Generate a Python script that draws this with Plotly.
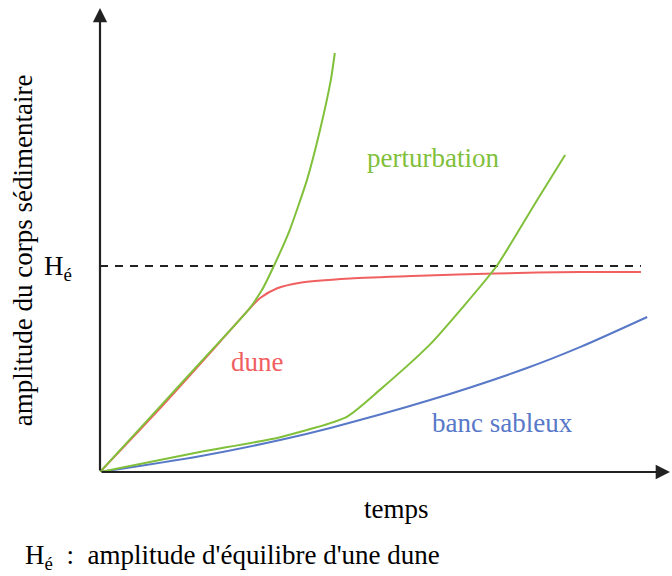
import plotly.graph_objects as go

# Time axis and amplitude curves (arbitrary units, 0-10 scale)
dune_t = [0, 1.0, 2.0, 2.60, 2.81, 3.11, 3.51, 4.39, 5.61, 6.93, 8.42, 9.49]
dune_h = [0, 1.30, 2.66, 3.49, 3.75, 3.96, 4.08, 4.17, 4.23, 4.28, 4.31, 4.31]

pert1_t = [0, 1.0, 2.0, 2.60, 2.84, 3.05, 3.33, 3.63, 3.86, 4.05, 4.12]
pert1_h = [0, 1.34, 2.68, 3.49, 3.92, 4.44, 5.22, 6.29, 7.37, 8.45, 9.03]

pert2_t = [0, 1.75, 3.16, 4.33, 4.91, 5.79, 6.37, 6.96, 7.32, 7.67, 8.16]
pert2_h = [0, 0.43, 0.75, 1.19, 1.77, 2.75, 3.56, 4.44, 5.15, 5.86, 6.83]

banc_t = [0, 1.75, 3.16, 4.04, 5.79, 7.49, 8.42, 9.60]
banc_h = [0, 0.34, 0.69, 0.95, 1.55, 2.24, 2.69, 3.34]

h_eq = 4.44          # equilibrium amplitude of a dune
h_eq_end = 9.49

GREEN = "rgb(128,192,58)"
RED = "rgb(240,96,96)"
BLUE = "rgb(88,120,200)"
AXIS = "rgb(34,34,34)"
FONT = "Liberation Serif, DejaVu Serif, serif"
FS = 27

fig = go.Figure()

fig.add_trace(go.Scatter(x=[0, h_eq_end], y=[h_eq, h_eq], mode="lines",
                         line=dict(color=AXIS, width=2, dash="8px,7px")))
fig.add_trace(go.Scatter(x=banc_t, y=banc_h, mode="lines",
                         line=dict(color=BLUE, width=2, shape="spline", smoothing=0.8)))
fig.add_trace(go.Scatter(x=dune_t, y=dune_h, mode="lines",
                         line=dict(color=RED, width=2, shape="spline", smoothing=0.7)))
fig.add_trace(go.Scatter(x=pert2_t, y=pert2_h, mode="lines",
                         line=dict(color=GREEN, width=2, shape="spline", smoothing=0.6)))
fig.add_trace(go.Scatter(x=pert1_t, y=pert1_h, mode="lines",
                         line=dict(color=GREEN, width=2, shape="spline", smoothing=0.5)))

annotations = [
    # axes with arrowheads
    dict(x=0, y=10, ax=0, ay=0, xref="x", yref="y", axref="x", ayref="y",
         showarrow=True, arrowhead=2, arrowsize=1.3, arrowwidth=2.2,
         arrowcolor=AXIS, text="", standoff=0),
    dict(x=10, y=0, ax=0, ay=0, xref="x", yref="y", axref="x", ayref="y",
         showarrow=True, arrowhead=2, arrowsize=1.3, arrowwidth=2.2,
         arrowcolor=AXIS, text="", standoff=0),
    # curve labels
    dict(x=5.85, y=6.77, xref="x", yref="y", text="perturbation", showarrow=False,
         xanchor="center", font=dict(family=FONT, size=FS, color=GREEN)),
    dict(x=2.77, y=2.37, xref="x", yref="y", text="dune", showarrow=False,
         xanchor="center", font=dict(family=FONT, size=FS, color=RED)),
    dict(x=7.07, y=1.06, xref="x", yref="y", text="banc sableux", showarrow=False,
         xanchor="center", font=dict(family=FONT, size=FS, color=BLUE)),
    # axis titles
    dict(x=5.2, y=-0.08, xref="x", yref="paper", text="temps", showarrow=False,
         xanchor="center", yanchor="middle",
         font=dict(family=FONT, size=FS, color="black")),
    dict(x=-0.135, y=0.478, xref="paper", yref="paper", textangle=-90,
         xanchor="center", yanchor="middle",
         text="amplitude du corps sédimentaire", showarrow=False,
         font=dict(family=FONT, size=FS, color="black")),
    # equilibrium level marker
    dict(x=0, y=h_eq, xref="x", yref="y", text="H<sub>é</sub>", showarrow=False,
         xanchor="right", xshift=-26, yshift=-2,
         font=dict(family=FONT, size=FS, color="black")),
    # legend note
    dict(x=-0.135, y=-0.183, xref="paper", yref="paper", xanchor="left",
         yanchor="middle",
         text="H<sub>é</sub>  :  amplitude d'équilibre d'une dune", showarrow=False,
         font=dict(family=FONT, size=FS, color="black")),
]

fig.update_layout(
    width=672, height=576,
    margin=dict(l=100, r=2, t=8, b=104),
    paper_bgcolor="white", plot_bgcolor="white",
    font=dict(family=FONT, size=FS),
    showlegend=False,
    xaxis=dict(range=[0, 10], visible=False, fixedrange=True),
    yaxis=dict(range=[0, 10], visible=False, fixedrange=True),
    annotations=annotations,
)

fig.write_html("out.html")
